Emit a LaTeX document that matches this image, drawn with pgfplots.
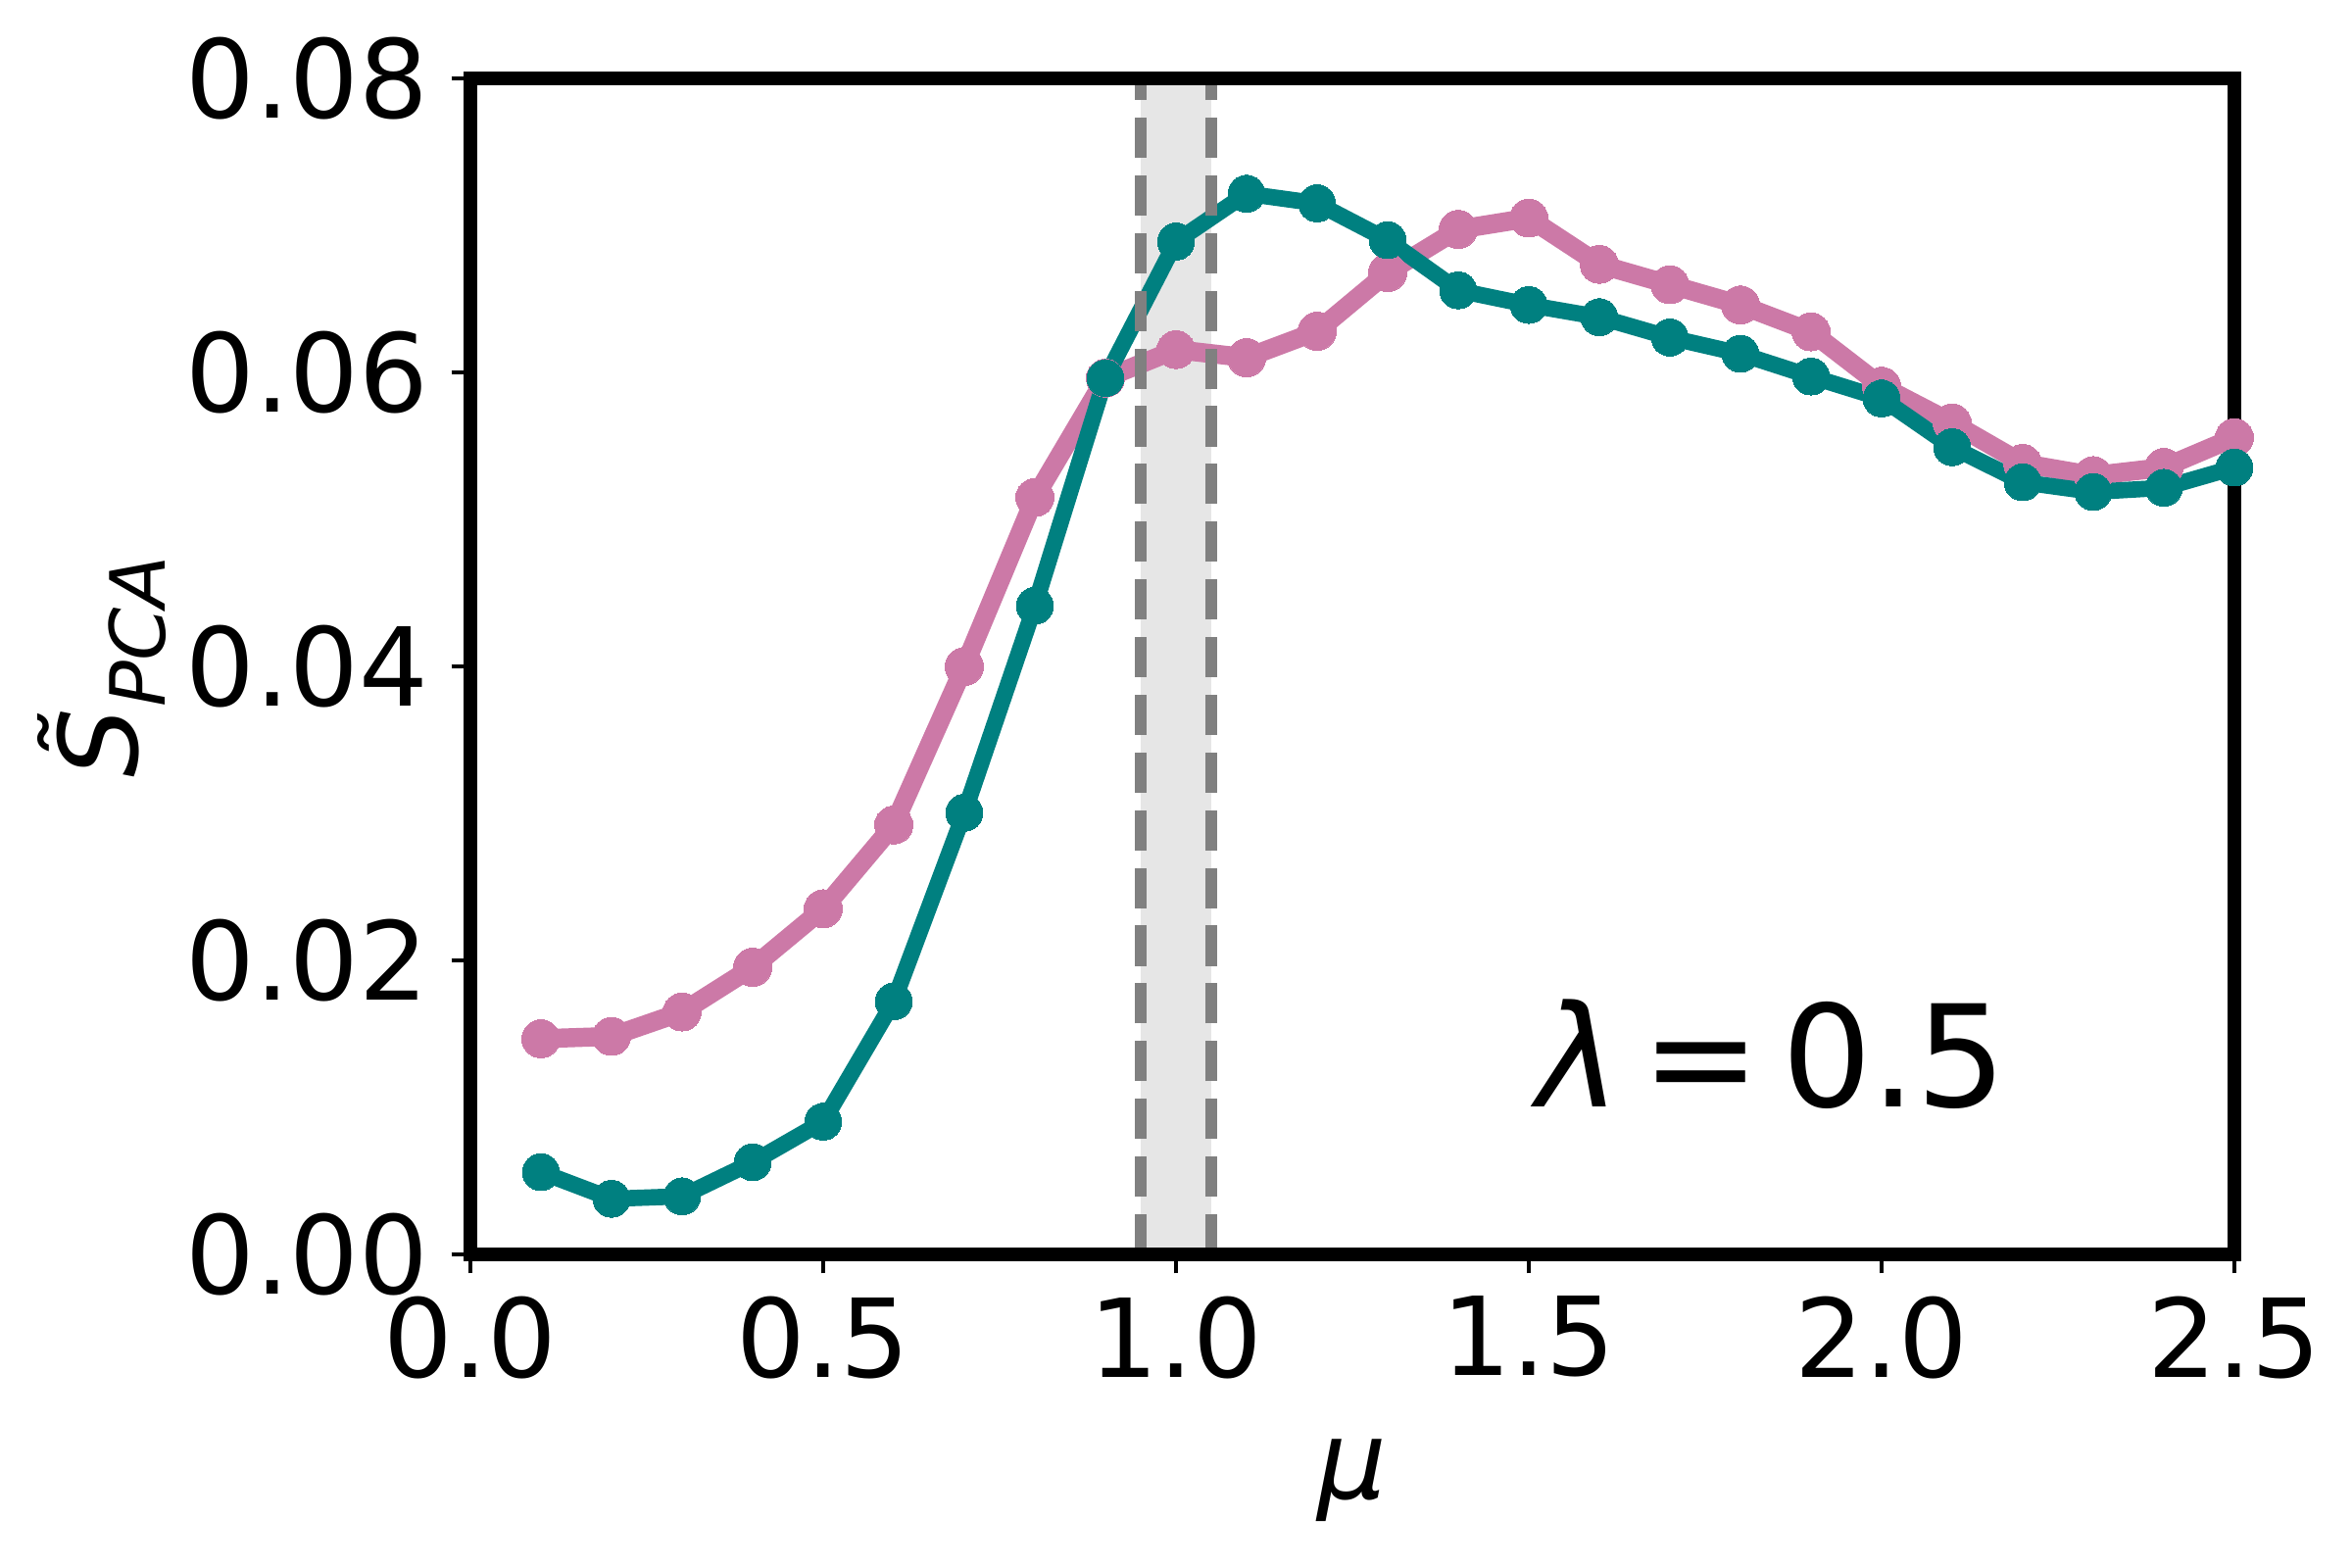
\documentclass[border=0pt]{standalone}
\usepackage{fontspec}
\setmainfont{DejaVu Sans}
\usepackage{pgfplots}
\pgfplotsset{compat=1.18}
\definecolor{pinkc}{HTML}{CC79A7}
\definecolor{tealc}{HTML}{008080}
\definecolor{spanc}{HTML}{E6E6E6}
\definecolor{dashc}{HTML}{808080}
\begin{document}
\begin{tikzpicture}
\path[use as bounding box] (0,0) rectangle (432pt,288pt);
\begin{axis}[
  at={(86.4pt,57.6pt)}, anchor=south west,
  scale only axis, width=324pt, height=216pt,
  xmin=0, xmax=2.5, ymin=0, ymax=0.08,
  xtick={0,0.5,1,1.5,2,2.5},
  ytick={0,0.02,0.04,0.06,0.08},
  xtick pos=bottom, ytick pos=left,
  axis on top,
  tick align=outside,
  major tick length=3.5pt,
  tick style={line width=0.8pt, black},
  axis line style={line width=2.4pt},
  /pgf/number format/assume math mode=true,
  ticklabel style={font=\fontsize{20}{24}\selectfont, inner sep=0pt},
  xticklabel style={/pgf/number format/.cd, fixed, fixed zerofill, precision=1},
  yticklabel style={/pgf/number format/.cd, fixed, fixed zerofill, precision=2},
  scaled y ticks=false,
  xticklabel shift=4pt,
  yticklabel shift=4pt,
  every axis x label/.style={at={(axis description cs:0.5,0)}, anchor=north, inner sep=0pt, yshift=-33.8pt, font=\fontsize{20}{24}\selectfont},
  every axis y label/.style={at={(axis description cs:-0.246,0.5)}, rotate=90, anchor=north, inner sep=0pt, font=\fontsize{20}{24}\selectfont},
  xlabel={\textit{μ}},
  ylabel={\textit{\~S}\raisebox{-0.25em}{\fontsize{14}{14}\selectfont\textit{PCA}}},
]
\addplot[draw=none, fill=spanc] coordinates {(0.95,0) (1.05,0) (1.05,0.08) (0.95,0.08)} -- cycle;
\addplot[color=pinkc, line width=3.5pt, mark=*, mark size=3.5pt, mark options={line width=0pt}] coordinates {
(0.1,0.01467) (0.2,0.01483) (0.3,0.01649) (0.4,0.01953) (0.5,0.02351)
(0.6,0.02921) (0.7,0.03999) (0.8,0.05149) (0.9,0.05961) (1.0,0.06155)
(1.1,0.06100) (1.2,0.06280) (1.3,0.06680) (1.4,0.06973) (1.5,0.07050)
(1.6,0.06735) (1.7,0.06597) (1.8,0.06459) (1.9,0.06276) (2.0,0.05906)
(2.1,0.05657) (2.2,0.05381) (2.3,0.05298) (2.4,0.05353) (2.5,0.05557)
};
\addplot[color=tealc, line width=3pt, mark=*, mark size=3.4pt, mark options={line width=0pt}] coordinates {
(0.1,0.00560) (0.2,0.00378) (0.3,0.00395) (0.4,0.00627) (0.5,0.00903)
(0.6,0.01721) (0.7,0.03004) (0.8,0.04413) (0.9,0.05961) (1.0,0.06890)
(1.1,0.07216) (1.2,0.07150) (1.3,0.06900) (1.4,0.06558) (1.5,0.06459)
(1.6,0.06376) (1.7,0.06237) (1.8,0.06127) (1.9,0.05972) (2.0,0.05823)
(2.1,0.05491) (2.2,0.05253) (2.3,0.05187) (2.4,0.05215) (2.5,0.05353)
};
\addplot[color=dashc, line width=2pt, dash pattern=on 7.4pt off 3.2pt] coordinates {(0.95,0) (0.95,0.08)};
\addplot[color=dashc, line width=2pt, dash pattern=on 7.4pt off 3.2pt] coordinates {(1.05,0) (1.05,0.08)};
\node[anchor=base west, inner sep=0pt, font=\fontsize{26}{30}\selectfont] at (axis cs:1.51,0.01) {\textit{λ}\hspace{0.15em}=\hspace{0.15em}0.5};
\end{axis}
\end{tikzpicture}
\end{document}
